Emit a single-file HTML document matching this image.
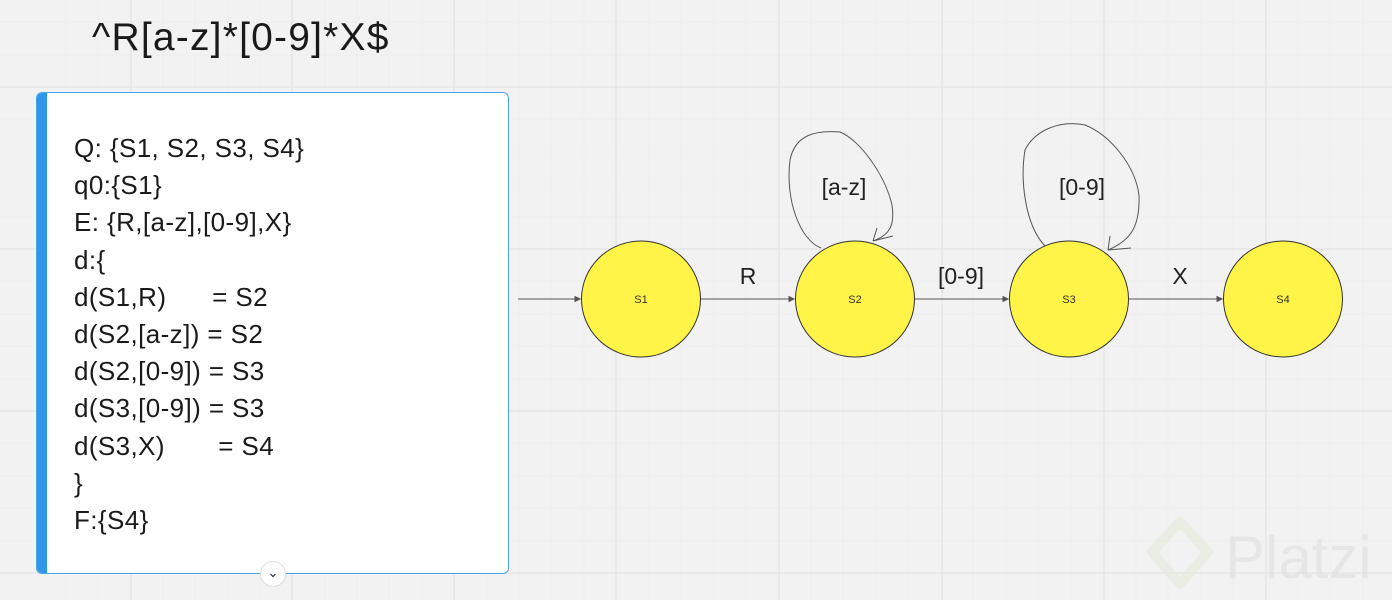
<!DOCTYPE html>
<html><head><meta charset="utf-8"><style>
html,body{margin:0;padding:0;}
body{width:1392px;height:600px;position:relative;overflow:hidden;background:#f2f2f2;font-family:"Liberation Sans",sans-serif;}
.card{position:absolute;left:36px;top:92px;width:471px;height:480px;background:#fff;border:1.5px solid #4aa3ec;border-radius:6px;overflow:hidden;}
.bar{position:absolute;left:0;top:0;bottom:0;width:10px;background:#2f97ea;}
.txt{position:absolute;left:37px;top:37px;font-size:26px;letter-spacing:0.4px;line-height:37.2px;color:#1a1a1a;white-space:pre;}
.title{position:absolute;left:92px;top:16px;font-size:39px;letter-spacing:1.2px;color:#1a1a1a;}
</style></head><body>
<svg width="1392" height="600" style="position:absolute;left:0;top:0">
<g stroke="#eeeeee" stroke-width="1">
<line x1="66" y1="0" x2="66" y2="600"/><line x1="98" y1="0" x2="98" y2="600"/><line x1="163" y1="0" x2="163" y2="600"/><line x1="195" y1="0" x2="195" y2="600"/>
<line x1="228" y1="0" x2="228" y2="600"/><line x1="260" y1="0" x2="260" y2="600"/>
<line x1="325" y1="0" x2="325" y2="600"/><line x1="357" y1="0" x2="357" y2="600"/><line x1="389" y1="0" x2="389" y2="600"/><line x1="422" y1="0" x2="422" y2="600"/>
<line x1="487" y1="0" x2="487" y2="600"/><line x1="519" y1="0" x2="519" y2="600"/><line x1="551" y1="0" x2="551" y2="600"/><line x1="584" y1="0" x2="584" y2="600"/>
<line x1="649" y1="0" x2="649" y2="600"/><line x1="681" y1="0" x2="681" y2="600"/><line x1="714" y1="0" x2="714" y2="600"/><line x1="746" y1="0" x2="746" y2="600"/>
<line x1="811" y1="0" x2="811" y2="600"/><line x1="843" y1="0" x2="843" y2="600"/><line x1="876" y1="0" x2="876" y2="600"/><line x1="908" y1="0" x2="908" y2="600"/>
<line x1="973" y1="0" x2="973" y2="600"/><line x1="1006" y1="0" x2="1006" y2="600"/><line x1="1038" y1="0" x2="1038" y2="600"/><line x1="1071" y1="0" x2="1071" y2="600"/>
<line x1="1136" y1="0" x2="1136" y2="600"/><line x1="1168" y1="0" x2="1168" y2="600"/><line x1="1201" y1="0" x2="1201" y2="600"/><line x1="1233" y1="0" x2="1233" y2="600"/>
<line x1="1298" y1="0" x2="1298" y2="600"/><line x1="1330" y1="0" x2="1330" y2="600"/><line x1="1363" y1="0" x2="1363" y2="600"/>
<line x1="0" y1="22" x2="1392" y2="22"/><line x1="0" y1="55" x2="1392" y2="55"/><line x1="0" y1="119" x2="1392" y2="119"/><line x1="0" y1="152" x2="1392" y2="152"/>
<line x1="0" y1="184" x2="1392" y2="184"/><line x1="0" y1="217" x2="1392" y2="217"/><line x1="0" y1="281" x2="1392" y2="281"/><line x1="0" y1="314" x2="1392" y2="314"/>
<line x1="0" y1="346" x2="1392" y2="346"/><line x1="0" y1="379" x2="1392" y2="379"/><line x1="0" y1="443" x2="1392" y2="443"/><line x1="0" y1="476" x2="1392" y2="476"/>
<line x1="0" y1="508" x2="1392" y2="508"/><line x1="0" y1="541" x2="1392" y2="541"/>
</g>
<g stroke="#e4e4e4" stroke-width="1.3">
<line x1="131" y1="0" x2="131" y2="600"/><line x1="292" y1="0" x2="292" y2="600"/><line x1="454" y1="0" x2="454" y2="600"/><line x1="616" y1="0" x2="616" y2="600"/>
<line x1="779" y1="0" x2="779" y2="600"/><line x1="942" y1="0" x2="942" y2="600"/><line x1="1104" y1="0" x2="1104" y2="600"/><line x1="1266" y1="0" x2="1266" y2="600"/>
<line x1="0" y1="87" x2="1392" y2="87"/><line x1="0" y1="249" x2="1392" y2="249"/><line x1="0" y1="411" x2="1392" y2="411"/><line x1="0" y1="573" x2="1392" y2="573"/>
</g>
<g stroke="#555" stroke-width="1" fill="#555">
<line x1="518" y1="299" x2="578" y2="299"/><polygon points="580,299 575,296.5 575,301.5"/>
<line x1="701" y1="299" x2="792" y2="299"/><polygon points="794,299 789,296.5 789,301.5"/>
<line x1="915" y1="299" x2="1006" y2="299"/><polygon points="1008,299 1003,296.5 1003,301.5"/>
<line x1="1129" y1="299" x2="1220" y2="299"/><polygon points="1222,299 1217,296.5 1217,301.5"/>
</g>
<g fill="none" stroke="#555" stroke-width="1">
<path d="M821,248 C800,240 785,200 790,160 C795,135 815,130 840,132 C860,140 885,175 892,205 C895,225 890,235 873,241"/>
<path d="M873,241 L893,236 M873,241 L877,228"/>
<path d="M1045,246 C1025,225 1020,180 1025,150 C1035,130 1060,120 1085,125 C1110,135 1135,165 1139,195 C1140,225 1132,240 1108,250"/>
<path d="M1108,250 L1131,248 M1108,250 L1110,236"/>
</g>
<g fill="#fff447" stroke="#333" stroke-width="1">
<ellipse cx="641" cy="299" rx="59.5" ry="58"/>
<ellipse cx="855" cy="299" rx="59.5" ry="58"/>
<ellipse cx="1069" cy="299" rx="59.5" ry="58"/>
<ellipse cx="1283" cy="299" rx="59.5" ry="58"/>
</g>
<g font-family="Liberation Sans,sans-serif" font-size="11" fill="#333" text-anchor="middle">
<text x="641" y="303">S1</text><text x="855" y="303">S2</text><text x="1069" y="303">S3</text><text x="1283" y="303">S4</text>
</g>
<g font-family="Liberation Sans,sans-serif" font-size="23" fill="#222" text-anchor="middle">
<text x="748" y="284">R</text><text x="961" y="284">[0-9]</text><text x="1180" y="284">X</text>
<text x="844" y="195">[a-z]</text><text x="1082" y="195">[0-9]</text>
</g>
<g opacity="0.5">
<path d="M1180,522 L1208,552 L1180,584 L1152,552 Z" fill="none" stroke="#e4ead8" stroke-width="10" stroke-linejoin="round"/>
<text x="1225" y="578" font-family="Liberation Sans,sans-serif" font-size="60" fill="#dcdcdc">Platzi</text>
</g>
</svg>
<div class="title">^R[a-z]*[0-9]*X$</div>
<div class="card"><div class="bar"></div><div class="txt">Q: {S1, S2, S3, S4}
q0:{S1}
E: {R,[a-z],[0-9],X}
d:{
d(S1,R)      = S2
d(S2,[a-z]) = S2
d(S2,[0-9]) = S3
d(S3,[0-9]) = S3
d(S3,X)       = S4
}
F:{S4}</div></div>
<div style="position:absolute;left:260px;top:561px;width:24px;height:24px;border-radius:50%;background:#fff;border:1px solid #ddd;text-align:center;font-size:13px;line-height:22px;color:#222">&#8964;</div>
</body></html>
